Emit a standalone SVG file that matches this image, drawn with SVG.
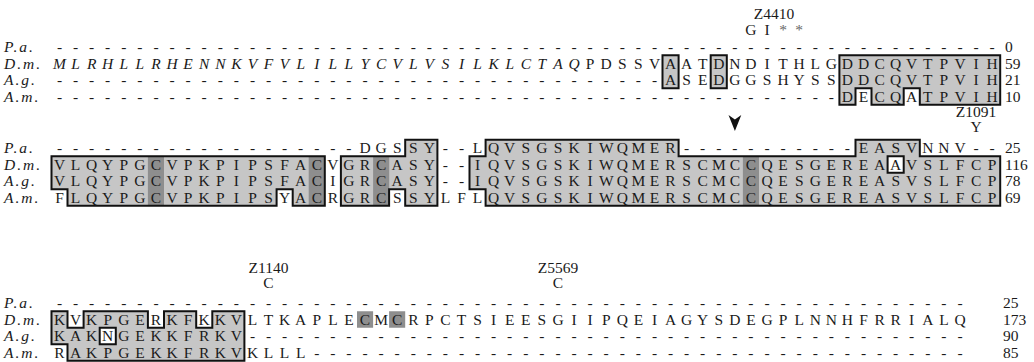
<svg xmlns="http://www.w3.org/2000/svg" xmlns:xlink="http://www.w3.org/1999/xlink" width="1034" height="362" viewBox="0 0 1034 362">
<style>
text{font-family:"Liberation Serif","Times New Roman",serif;font-size:15.5px;fill:#1a1a1a}
.seq{text-anchor:middle}
.it{font-style:italic}
.lab{font-style:italic;text-anchor:start;letter-spacing:2px}
.num{text-anchor:start}
.ann{text-anchor:middle}
.star{fill:#666}
.fill{fill:#c6c6c6;stroke:none}
.dark{fill:#8e8e8e;stroke:none}
.line{fill:none;stroke:#111;stroke-width:2}
.hole{fill:#fff;stroke:#111;stroke-width:2}
</style>
<defs>
<path id="b1c" d="M839.4,55.25 H1000.2 V104.75 H919.8 V88.25 H903.7 V104.75 H871.5 V88.25 H855.5 V104.75 H839.4 Z"/>
<path id="b2a" d="M51.5,156.25 H324.8 V205.75 H292.7 V189.25 H276.6 V205.75 H67.5 V189.25 H51.5 Z"/>
<path id="b2b" d="M405.2,139.75 H437.4 V205.75 H405.2 V189.25 H389.1 V205.75 H340.9 V156.25 H405.2 Z"/>
<path id="b2c" d="M485.6,139.75 H678.6 V156.25 H855.5 V139.75 H919.8 V156.25 H1000.2 V205.75 H485.6 V189.25 H469.5 V156.25 H485.6 Z"/>
<path id="b3a" d="M51.5,311.25 H67.5 V327.75 H83.6 V311.25 H147.9 V327.75 H164 V311.25 H196.2 V327.75 H212.3 V311.25 H244.4 V360.75 H67.5 V344.25 H51.5 Z"/>
</defs>

<g id="shading">
<rect class="fill" x="662.5" y="55.25" width="16.1" height="33"/>
<rect class="fill" x="710.7" y="55.25" width="16.1" height="33"/>
<use xlink:href="#b1c" class="fill"/>
<use xlink:href="#b2a" class="fill"/>
<use xlink:href="#b2b" class="fill"/>
<use xlink:href="#b2c" class="fill"/>
<use xlink:href="#b3a" class="fill"/>
<rect class="dark" x="147.9" y="156.25" width="16.1" height="49.5"/>
<rect class="dark" x="308.7" y="156.25" width="16.1" height="49.5"/>
<rect class="dark" x="373.1" y="156.25" width="16.1" height="49.5"/>
<rect class="dark" x="742.9" y="156.25" width="16.1" height="49.5"/>
<rect class="dark" x="357" y="311.25" width="16.1" height="16.5"/>
<rect class="dark" x="389.1" y="311.25" width="16.1" height="16.5"/>
<rect class="line" x="662.5" y="55.25" width="16.1" height="33"/>
<rect class="line" x="710.7" y="55.25" width="16.1" height="33"/>
<use xlink:href="#b1c" class="line"/>
<use xlink:href="#b2a" class="line"/>
<use xlink:href="#b2b" class="line"/>
<use xlink:href="#b2c" class="line"/>
<use xlink:href="#b3a" class="line"/>
<rect class="hole" x="887.6" y="156.25" width="16.1" height="16.5"/>
<rect class="hole" x="99.7" y="327.75" width="16.1" height="16.5"/>
</g>

<g id="annotations">
<text class="ann" x="774" y="19">Z4410</text>
<text class="seq" x="750.9 767" y="35">GI</text>
<text class="seq star" x="783.1 799.2" y="35">**</text>
<text class="ann" x="976" y="117">Z1091</text>
<text class="ann" x="976" y="132">Y</text>
<path id="arrowhead" d="M734.9,131 L728.5,115 L734.9,119.5 L741.3,115 Z" fill="#111"/>
<text class="ann" x="268.5" y="273">Z1140</text>
<text class="ann" x="268.5" y="288">C</text>
<text class="ann" x="558" y="273">Z5569</text>
<text class="ann" x="558" y="288">C</text>
</g>

<g id="block1">
<text class="lab" x="4" y="52">P.a.</text>
<text class="lab" x="4" y="68.5">D.m.</text>
<text class="lab" x="4" y="85">A.g.</text>
<text class="lab" x="4" y="101.5">A.m.</text>
<text class="seq" y="52" x="59.5 75.6 91.7 107.7 123.8 139.9 156 172.1 188.1 204.2 220.3 236.4 252.5 268.5 284.6 300.7 316.8 332.9 348.9 365 381.1 397.2 413.3 429.3 445.4 461.5 477.6 493.7 509.7 525.8 541.9 558 574.1 590.1 606.2 622.3 638.4 654.5 670.5 686.6 702.7 718.8 734.9 750.9 767 783.1 799.2 815.3 831.3 847.4 863.5 879.6 895.7 911.7 927.8 943.9 960 976.1 992.1">-----------------------------------------------------------</text>
<text class="seq" y="68.5"><tspan class="it" x="59.5 75.6 91.7 107.7 123.8 139.9 156 172.1 188.1 204.2 220.3 236.4 252.5 268.5 284.6 300.7 316.8 332.9 348.9 365 381.1 397.2 413.3 429.3 445.4 461.5 477.6 493.7 509.7 525.8 541.9 558 574.1">MLRHLLRHENNKVFVLILLYCVLVSILKLCTAQ</tspan><tspan x="590.1 606.2 622.3 638.4 654.5 670.5 686.6 702.7 718.8 734.9 750.9 767 783.1 799.2 815.3 831.3 847.4 863.5 879.6 895.7 911.7 927.8 943.9 960 976.1 992.1">PDSSVAATDNDITHLGDDCQVTPVIH</tspan></text>
<text class="seq" y="85" x="59.5 75.6 91.7 107.7 123.8 139.9 156 172.1 188.1 204.2 220.3 236.4 252.5 268.5 284.6 300.7 316.8 332.9 348.9 365 381.1 397.2 413.3 429.3 445.4 461.5 477.6 493.7 509.7 525.8 541.9 558 574.1 590.1 606.2 622.3 638.4 654.5 670.5 686.6 702.7 718.8 734.9 750.9 767 783.1 799.2 815.3 831.3 847.4 863.5 879.6 895.7 911.7 927.8 943.9 960 976.1 992.1">--------------------------------------ASEDGGSHYSSDDCQVTPVIH</text>
<text class="seq" y="101.5" x="59.5 75.6 91.7 107.7 123.8 139.9 156 172.1 188.1 204.2 220.3 236.4 252.5 268.5 284.6 300.7 316.8 332.9 348.9 365 381.1 397.2 413.3 429.3 445.4 461.5 477.6 493.7 509.7 525.8 541.9 558 574.1 590.1 606.2 622.3 638.4 654.5 670.5 686.6 702.7 718.8 734.9 750.9 767 783.1 799.2 815.3 831.3 847.4 863.5 879.6 895.7 911.7 927.8 943.9 960 976.1 992.1">-------------------------------------------------DECQATPVIH</text>
<text class="num" x="1005" y="52">0</text>
<text class="num" x="1005" y="68.5">59</text>
<text class="num" x="1005" y="85">21</text>
<text class="num" x="1005" y="101.5">10</text>
</g>

<g id="block2">
<text class="lab" x="4" y="153">P.a.</text>
<text class="lab" x="4" y="169.5">D.m.</text>
<text class="lab" x="4" y="186">A.g.</text>
<text class="lab" x="4" y="202.5">A.m.</text>
<text class="seq" y="153" x="59.5 75.6 91.7 107.7 123.8 139.9 156 172.1 188.1 204.2 220.3 236.4 252.5 268.5 284.6 300.7 316.8 332.9 348.9 365 381.1 397.2 413.3 429.3 445.4 461.5 477.6 493.7 509.7 525.8 541.9 558 574.1 590.1 606.2 622.3 638.4 654.5 670.5 686.6 702.7 718.8 734.9 750.9 767 783.1 799.2 815.3 831.3 847.4 863.5 879.6 895.7 911.7 927.8 943.9 960 976.1 992.1">-------------------DGSSY--LQVSGSKIWQMER-----------EASVNNV--</text>
<text class="seq" y="169.5" x="59.5 75.6 91.7 107.7 123.8 139.9 156 172.1 188.1 204.2 220.3 236.4 252.5 268.5 284.6 300.7 316.8 332.9 348.9 365 381.1 397.2 413.3 429.3 445.4 461.5 477.6 493.7 509.7 525.8 541.9 558 574.1 590.1 606.2 622.3 638.4 654.5 670.5 686.6 702.7 718.8 734.9 750.9 767 783.1 799.2 815.3 831.3 847.4 863.5 879.6 895.7 911.7 927.8 943.9 960 976.1 992.1">VLQYPGCVPKPIPSFACVGRCASY--IQVSGSKIWQMERSCMCCQESGEREAAVSLFCP</text>
<text class="seq" y="186" x="59.5 75.6 91.7 107.7 123.8 139.9 156 172.1 188.1 204.2 220.3 236.4 252.5 268.5 284.6 300.7 316.8 332.9 348.9 365 381.1 397.2 413.3 429.3 445.4 461.5 477.6 493.7 509.7 525.8 541.9 558 574.1 590.1 606.2 622.3 638.4 654.5 670.5 686.6 702.7 718.8 734.9 750.9 767 783.1 799.2 815.3 831.3 847.4 863.5 879.6 895.7 911.7 927.8 943.9 960 976.1 992.1">VLQYPGCVPKPIPSFACIGRCASY--IQVSGSKIWQMERSCMCCQESGEREASVSLFCP</text>
<text class="seq" y="202.5" x="59.5 75.6 91.7 107.7 123.8 139.9 156 172.1 188.1 204.2 220.3 236.4 252.5 268.5 284.6 300.7 316.8 332.9 348.9 365 381.1 397.2 413.3 429.3 445.4 461.5 477.6 493.7 509.7 525.8 541.9 558 574.1 590.1 606.2 622.3 638.4 654.5 670.5 686.6 702.7 718.8 734.9 750.9 767 783.1 799.2 815.3 831.3 847.4 863.5 879.6 895.7 911.7 927.8 943.9 960 976.1 992.1">FLQYPGCVPKPIPSYACRGRCSSYLFLQVSGSKIWQMERSCMCCQESGEREASVSLFCP</text>
<text class="num" x="1005" y="153">25</text>
<text class="num" x="1005" y="169.5">116</text>
<text class="num" x="1005" y="186">78</text>
<text class="num" x="1005" y="202.5">69</text>
</g>

<g id="block3">
<text class="lab" x="4" y="308">P.a.</text>
<text class="lab" x="4" y="324.5">D.m.</text>
<text class="lab" x="4" y="341">A.g.</text>
<text class="lab" x="4" y="357.5">A.m.</text>
<text class="seq" y="308" x="59.5 75.6 91.7 107.7 123.8 139.9 156 172.1 188.1 204.2 220.3 236.4 252.5 268.5 284.6 300.7 316.8 332.9 348.9 365 381.1 397.2 413.3 429.3 445.4 461.5 477.6 493.7 509.7 525.8 541.9 558 574.1 590.1 606.2 622.3 638.4 654.5 670.5 686.6 702.7 718.8 734.9 750.9 767 783.1 799.2 815.3 831.3 847.4 863.5 879.6 895.7 911.7 927.8 943.9 960">---------------------------------------------------------</text>
<text class="seq" y="324.5" x="59.5 75.6 91.7 107.7 123.8 139.9 156 172.1 188.1 204.2 220.3 236.4 252.5 268.5 284.6 300.7 316.8 332.9 348.9 365 381.1 397.2 413.3 429.3 445.4 461.5 477.6 493.7 509.7 525.8 541.9 558 574.1 590.1 606.2 622.3 638.4 654.5 670.5 686.6 702.7 718.8 734.9 750.9 767 783.1 799.2 815.3 831.3 847.4 863.5 879.6 895.7 911.7 927.8 943.9 960">KVKPGERKFKKVLTKAPLECMCRPCTSIEESGIIPQEIAGYSDEGPLNNHFRRIALQ</text>
<text class="seq" y="341" x="59.5 75.6 91.7 107.7 123.8 139.9 156 172.1 188.1 204.2 220.3 236.4 252.5 268.5 284.6 300.7 316.8 332.9 348.9 365 381.1 397.2 413.3 429.3 445.4 461.5 477.6 493.7 509.7 525.8 541.9 558 574.1 590.1 606.2 622.3 638.4 654.5 670.5 686.6 702.7 718.8 734.9 750.9 767 783.1 799.2 815.3 831.3 847.4 863.5 879.6 895.7 911.7 927.8 943.9 960">KAKNGEKKFRKV---------------------------------------------</text>
<text class="seq" y="357.5" x="59.5 75.6 91.7 107.7 123.8 139.9 156 172.1 188.1 204.2 220.3 236.4 252.5 268.5 284.6 300.7 316.8 332.9 348.9 365 381.1 397.2 413.3 429.3 445.4 461.5 477.6 493.7 509.7 525.8 541.9 558 574.1 590.1 606.2 622.3 638.4 654.5 670.5 686.6 702.7 718.8 734.9 750.9 767 783.1 799.2 815.3 831.3 847.4 863.5 879.6 895.7 911.7 927.8 943.9 960">RAKPGEKKFRKVKLLL-----------------------------------------</text>
<text class="num" x="1003" y="308">25</text>
<text class="num" x="1003" y="324.5">173</text>
<text class="num" x="1003" y="341">90</text>
<text class="num" x="1003" y="357.5">85</text>
</g>
</svg>
